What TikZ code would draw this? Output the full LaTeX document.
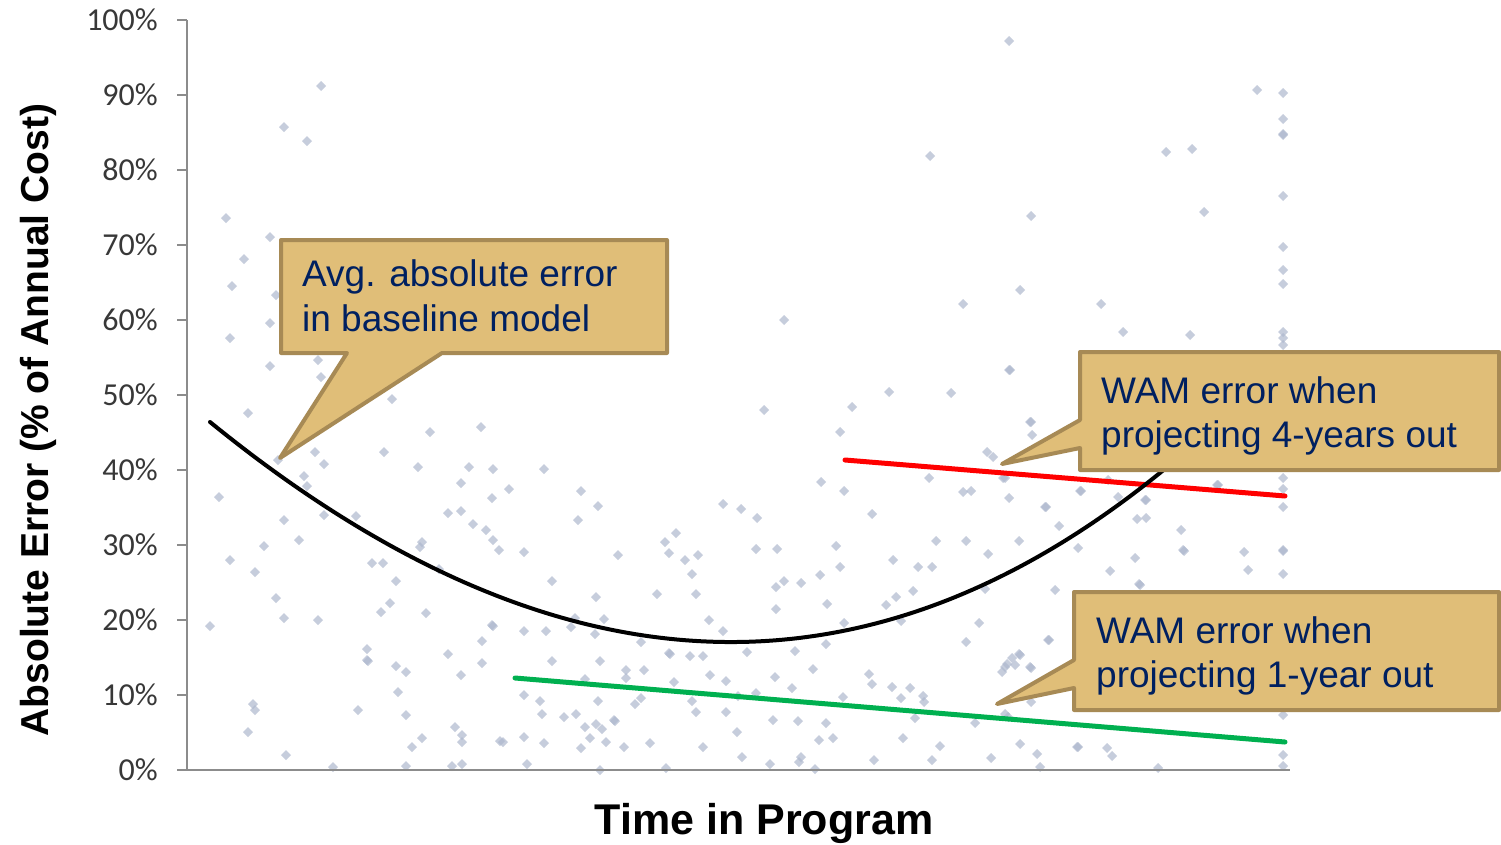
\documentclass[tikz,border=0pt]{standalone}
\usepackage{fontspec}
\setmainfont{Liberation Sans}
\newfontfamily\tickfont{Carlito}
\definecolor{dotc}{HTML}{AEB8CE}
\definecolor{axisc}{HTML}{8C8C8C}
\definecolor{tickc}{HTML}{383838}
\definecolor{callfill}{HTML}{E0BE78}
\definecolor{calldraw}{HTML}{A78A55}
\definecolor{calltext}{HTML}{002060}
\definecolor{redl}{HTML}{FF0000}
\definecolor{greenl}{HTML}{00B050}
\begin{document}
\begin{tikzpicture}[x=1pt,y=-1pt,
  ticklab/.style={font=\tickfont\fontsize{32}{34}\selectfont, text=tickc, inner sep=0pt, anchor=east},
  ctext/.style={font=\fontsize{37}{44}\selectfont, text=calltext, inner sep=0pt, anchor=base west},
  callout/.style={fill=callfill, draw=calldraw, line width=4pt, line join=round},
  dotmark/.style={fill=dotc, opacity=0.7}]
\useasboundingbox (0,0) rectangle (1501,844);
\fill[white] (0,0) rectangle (1501,844);

% scatter points
\foreach \px/\py in {
321/86, 284/127, 307/141, 226/218, 270/237, 244/259, 232/286, 276/295, 270/323, 230/338, 270/366, 318/360, 321/377,
1009/41, 1257/90, 1283/93, 1283/119, 1283/135, 1283/134, 930/156, 1166/152, 1192/149, 1283/196, 1031/216, 1204/212,
1283/247, 1283/270, 1283/284, 1020/290, 963/304, 1101/304, 784/320, 1123/332, 1190/335, 1283/332, 1283/338, 1283/345,
1009/370, 889/392, 951/393,
248/413, 392/399, 430/432, 481/427, 315/452, 278/460, 384/452, 324/464, 418/467, 469/467, 493/469, 544/469, 304/476,
307/486, 461/483, 509/489, 581/491, 219/497, 492/498, 598/506, 723/504, 448/513, 461/511, 324/515, 356/516, 578/520,
284/520, 473/524, 486/530, 676/533, 299/540, 493/540, 422/542, 665/542, 264/546, 420/547, 499/550, 524/552, 669/553,
618/555, 698/555, 230/560, 685/560, 372/563, 383/563, 255/572, 439/569, 692/574, 396/581, 552/581, 657/594, 696/594,
276/598, 596/597, 390/603, 381/612, 426/613, 284/618, 318/620, 575/618, 604/619, 709/620, 210/626, 492/625, 493/626,
524/631, 546/631, 571/627, 595/634, 641/642, 723/631, 482/641, 367/649, 367/660, 368/661, 669/653, 670/654, 448/654,
690/656, 703/656, 482/663, 552/661, 600/661, 396/666, 406/672, 461/675, 626/670, 644/670, 710/675, 585/679, 626/678,
674/682, 726/681, 398/692, 524/695, 540/701, 598/701, 692/701, 641/698, 635/704, 253/704, 255/710, 358/710, 406/715,
542/714, 564/717, 576/714, 696/712, 726/712, 614/720, 615/721, 596/724, 602/729, 585/727, 455/727, 248/732, 462/735,
524/737, 422/738, 590/738, 462/742, 503/742, 544/743, 606/742, 650/743, 412/747, 581/748, 624/747, 703/747, 286/755,
333/767, 406/766, 452/766, 462/764, 527/764, 600/770, 666/768, 500/741,
764/410, 852/407, 840/432, 1031/422, 1032/435, 987/452, 993/457, 821/482, 844/491, 929/478, 963/492, 971/491, 1005/478,
1009/498, 1081/491, 1118/497, 1146/500, 1217/485, 1283/478, 1283/507, 1046/507, 741/509, 757/518, 872/514, 1137/519,
1146/518, 1059/526, 1181/530, 936/541, 966/541, 1019/541, 836/546, 756/549, 777/549, 1078/548, 1183/550, 1184/551,
1244/552, 1283/550, 1283/551, 988/554, 893/560, 1135/558, 840/567, 918/567, 932/567, 1110/571, 1248/570, 1283/574,
820/575, 784/581, 776/587, 801/583, 1139/584, 913/591, 896/597, 1055/590, 985/589, 886/605, 827/604, 776/609, 844/623,
901/621, 979/623, 1049/640, 966/642, 826/644, 795/651, 747/652, 1019/654, 1012/658, 1007/664, 1002/672, 1031/668,
813/669, 775/677, 869/674, 792/688, 872/684, 892/687, 910/688, 901/698, 923/696, 924/702, 843/697, 1031/702, 756/693,
738/696, 915/718, 975/723, 1008/717, 1283/715, 773/720, 798/721, 826/723, 737/732, 819/740, 833/738, 903/738, 940/746,
1020/744, 1078/747, 1107/748, 1112/756, 1037/754, 1283/755, 742/757, 801/757, 799/762, 874/760, 932/760, 991/758,
770/764, 815/769, 1040/767, 1158/768, 1283/766, 1010/370, 1030/422, 1003/478, 1080/491, 1108/480, 1145/500,
1218/485, 1283/489, 1045/507, 1140/585, 1048/640, 1020/655, 1005/667, 1030/667, 1015/665, 1005/714, 1077/747}
  \fill[dotmark] (\px,\py) +(-5,0) -- +(0,-5) -- +(5,0) -- +(0,5) -- cycle;

% axes
\draw[axisc, line width=2pt] (187,20) -- (187,770) -- (1290,770);
\foreach \p in {0,10,...,100}
  \draw[axisc, line width=2pt] (177,{770-7.5*\p}) -- (187,{770-7.5*\p});
\foreach \p in {0,10,...,100}
  \node[ticklab] (t\p) at (158,{770-7.5*\p}) {\p\%};

% axis titles
\node[font=\bfseries\fontsize{39}{41}\selectfont, rotate=90, anchor=base, inner sep=0pt] (ytitle) at (48,420) {Absolute Error (\% of Annual Cost)};
\node[font=\bfseries\fontsize{43}{45}\selectfont, anchor=base, inner sep=0pt] (xtitle) at (764,834) {Time in Program};

% series lines
\draw[greenl, line width=5pt, line cap=round] (515,678) -- (1285,742);
\draw[redl, line width=5pt, line cap=round] (845,460) -- (1285,496);
\draw[black, line width=4pt, line cap=round, line join=round] plot[domain=-5.27:4.48, samples=120]
  ({737+100*\x}, {642-1.043*\x-8.722*\x*\x-0.11436*\x*\x*\x});

% callout 1
\draw[callout] (281,240) -- (667,240) -- (667,353) -- (442,353) -- (280,458) -- (347,353) -- (281,353) -- cycle;
\node[ctext] (c1a) at (302,286) {Avg. absolute error};
\node[ctext] (c1b) at (302,331) {in baseline model};

% callout 2
\draw[callout] (1080,352) -- (1499,352) -- (1499,470) -- (1080,470) -- (1080,448) -- (1002,464) -- (1080,420) -- cycle;
\node[ctext] (c2a) at (1101,403) {WAM error when};
\node[ctext] (c2b) at (1101,447) {projecting 4-years out};

% callout 3
\draw[callout] (1074,592) -- (1499,592) -- (1499,710) -- (1074,710) -- (1074,688) -- (997,704) -- (1074,660) -- cycle;
\node[ctext] (c3a) at (1096,643) {WAM error when};
\node[ctext] (c3b) at (1096,687) {projecting 1-year out};
\end{tikzpicture}
\end{document}
